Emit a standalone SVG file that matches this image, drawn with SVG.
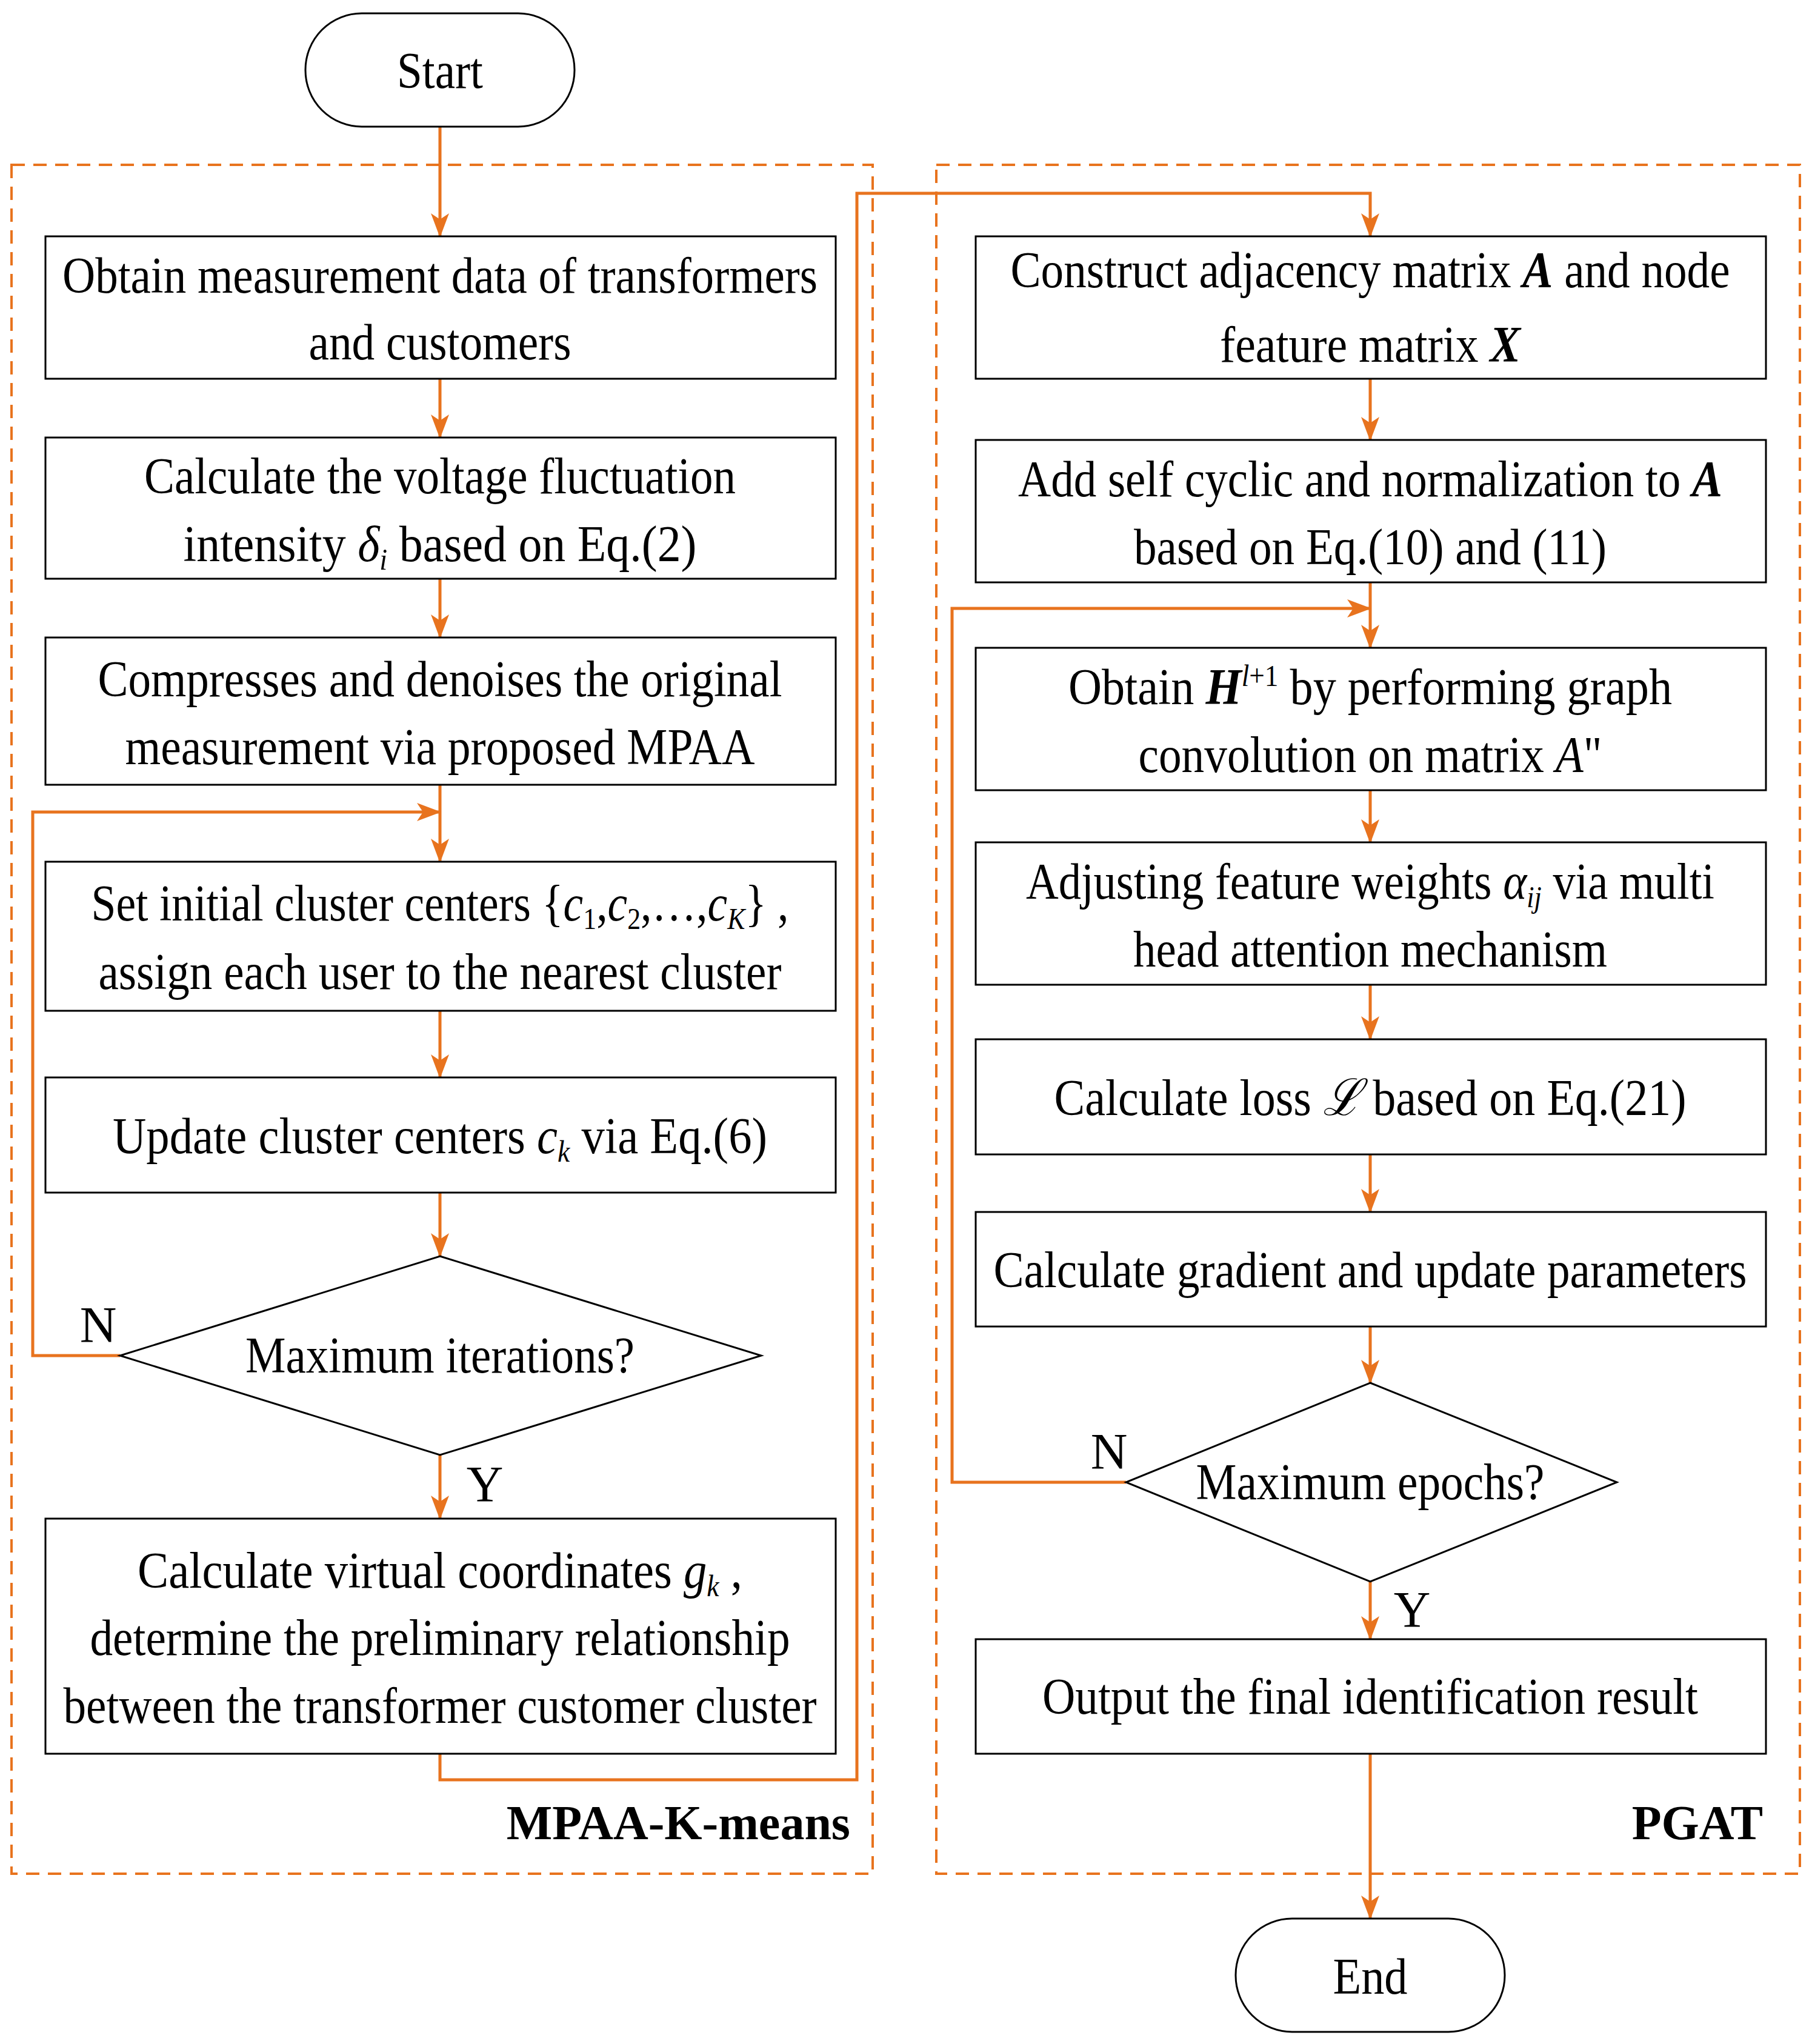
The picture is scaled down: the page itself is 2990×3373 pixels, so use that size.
<svg xmlns="http://www.w3.org/2000/svg" width="2990" height="3373" viewBox="0 0 2990 3373">
<style>
.b{fill:#fff;stroke:#000;stroke-width:3}
.t{font-family:"Liberation Serif",serif;font-size:84px;fill:#000;text-anchor:middle}
.i{font-style:italic}
.bi{font-style:italic;font-weight:bold}
.s{font-size:50px}
.c{fill:none;stroke:#E8731E;stroke-width:5}
.d{fill:none;stroke:#E8731E;stroke-width:4;stroke-dasharray:22 14}
.l{font-family:"Liberation Serif",serif;font-size:80px;font-weight:bold;text-anchor:end}
</style>
<defs><marker id="a" markerWidth="10" markerHeight="10" refX="9" refY="5" orient="auto" markerUnits="userSpaceOnUse" viewBox="0 0 10 10"><path d="M0,0L10,5L0,10z" fill="#E8731E"/></marker>
<marker id="m" markerWidth="40" markerHeight="40" refX="38" refY="15" orient="auto" markerUnits="userSpaceOnUse"><path d="M0,0L40,15L0,30L10,15z" fill="#E8731E"/></marker></defs>
<rect class="d" x="19" y="272" width="1421" height="2820"/>
<rect class="d" x="1545" y="272" width="1425" height="2820"/>
<text class="l" x="1403" y="3035">MPAA-K-means</text>
<text class="l" x="2909" y="3035">PGAT</text>
<g id="connectors">
<path class="c" marker-end="url(#m)" d="M726,209V390"/>
<path class="c" marker-end="url(#m)" d="M726,625V722"/>
<path class="c" marker-end="url(#m)" d="M726,955V1052"/>
<path class="c" marker-end="url(#m)" d="M726,1295V1422"/>
<path class="c" marker-end="url(#m)" d="M726,1668V1778"/>
<path class="c" marker-end="url(#m)" d="M726,1968V2073"/>
<path class="c" marker-end="url(#m)" d="M726,2401V2506"/>
<path class="c" marker-end="url(#m)" d="M198,2237H54V1340H726"/>
<path class="c" marker-end="url(#m)" d="M726,2894V2937H1414V319H2261V390"/>
<path class="c" marker-end="url(#m)" d="M2261,625V726"/>
<path class="c" marker-end="url(#m)" d="M2261,961V1069"/>
<path class="c" marker-end="url(#m)" d="M2261,1304V1390"/>
<path class="c" marker-end="url(#m)" d="M2261,1625V1715"/>
<path class="c" marker-end="url(#m)" d="M2261,1905V2000"/>
<path class="c" marker-end="url(#m)" d="M2261,2189V2282"/>
<path class="c" marker-end="url(#m)" d="M2261,2610V2705"/>
<path class="c" marker-end="url(#m)" d="M2261,2894V3166"/>
<path class="c" marker-end="url(#m)" d="M1858,2446H1571V1004H2261"/>
</g>
<g id="start"><rect class="b" x="504" y="22" width="444" height="187" rx="93"/><text class="t" x="726" y="145" textLength="142" lengthAdjust="spacingAndGlyphs">Start</text></g>
<g id="n1"><rect class="b" x="75" y="390" width="1304" height="235"/><text class="t" x="726" y="483" textLength="1246" lengthAdjust="spacingAndGlyphs">Obtain measurement data of transformers</text><text class="t" x="726" y="593" textLength="433" lengthAdjust="spacingAndGlyphs">and customers</text></g>
<g id="n2"><rect class="b" x="75" y="722" width="1304" height="233"/><text class="t" x="726" y="814" textLength="976" lengthAdjust="spacingAndGlyphs">Calculate the voltage fluctuation</text><text class="t" x="726" y="926" textLength="847" lengthAdjust="spacingAndGlyphs">intensity  <tspan class="i">δ</tspan><tspan class="i s" dy="14">i</tspan><tspan dy="-14">  based on Eq.(2)</tspan></text></g>
<g id="n3"><rect class="b" x="75" y="1052" width="1304" height="243"/><text class="t" x="726" y="1149" textLength="1129" lengthAdjust="spacingAndGlyphs">Compresses and denoises the original</text><text class="t" x="726" y="1261" textLength="1039" lengthAdjust="spacingAndGlyphs">measurement via proposed MPAA</text></g>
<g id="n4"><rect class="b" x="75" y="1422" width="1304" height="246"/><text class="t" x="726" y="1519" textLength="1151" lengthAdjust="spacingAndGlyphs">Set initial cluster centers {<tspan class="i">c</tspan><tspan class="s" dy="14">1</tspan><tspan dy="-14">,</tspan><tspan class="i">c</tspan><tspan class="s" dy="14">2</tspan><tspan dy="-14">,…,</tspan><tspan class="i">c</tspan><tspan class="i s" dy="14">K</tspan><tspan dy="-14">} ,</tspan></text><text class="t" x="726" y="1632" textLength="1127" lengthAdjust="spacingAndGlyphs">assign each user to the nearest cluster</text></g>
<g id="n5"><rect class="b" x="75" y="1778" width="1304" height="190"/><text class="t" x="726" y="1903" textLength="1080" lengthAdjust="spacingAndGlyphs">Update cluster centers  <tspan class="i">c</tspan><tspan class="i s" dy="14">k</tspan><tspan dy="-14"> via Eq.(6)</tspan></text></g>
<g id="d1"><path class="b" d="M726,2073L1256,2237L726,2401L198,2237z"/><text class="t" x="726" y="2265" textLength="642" lengthAdjust="spacingAndGlyphs">Maximum iterations?</text><text class="t" x="162" y="2215">N</text><text class="t" x="800" y="2478">Y</text></g>
<g id="n6"><rect class="b" x="75" y="2506" width="1304" height="388"/><text class="t" x="726" y="2620" textLength="998" lengthAdjust="spacingAndGlyphs">Calculate virtual coordinates  <tspan class="i">g</tspan><tspan class="i s" dy="14">k</tspan><tspan dy="-14"> ,</tspan></text><text class="t" x="726" y="2731" textLength="1155" lengthAdjust="spacingAndGlyphs">determine the preliminary relationship</text><text class="t" x="726" y="2843" textLength="1243" lengthAdjust="spacingAndGlyphs">between the transformer customer cluster</text></g>
<g id="r1"><rect class="b" x="1610" y="390" width="1304" height="235"/><text class="t" x="2261" y="474" textLength="1187" lengthAdjust="spacingAndGlyphs">Construct adjacency matrix <tspan class="bi">A</tspan> and node</text><text class="t" x="2261" y="597" textLength="496" lengthAdjust="spacingAndGlyphs">feature matrix <tspan class="bi">X</tspan></text></g>
<g id="r2"><rect class="b" x="1610" y="726" width="1304" height="235"/><text class="t" x="2261" y="819" textLength="1162" lengthAdjust="spacingAndGlyphs">Add self cyclic and normalization to <tspan class="bi">A</tspan></text><text class="t" x="2261" y="931" textLength="780" lengthAdjust="spacingAndGlyphs">based on Eq.(10) and (11)</text></g>
<g id="r3"><rect class="b" x="1610" y="1069" width="1304" height="235"/><text class="t" x="2261" y="1162" textLength="996" lengthAdjust="spacingAndGlyphs">Obtain  <tspan class="bi">H</tspan><tspan class="i s" dy="-30">l</tspan><tspan class="s">+1</tspan><tspan dy="30"> by performing graph</tspan></text><text class="t" x="2261" y="1274" textLength="765" lengthAdjust="spacingAndGlyphs">convolution on matrix <tspan class="i">A</tspan>"</text></g>
<g id="r4"><rect class="b" x="1610" y="1390" width="1304" height="235"/><text class="t" x="2261" y="1483" textLength="1136" lengthAdjust="spacingAndGlyphs">Adjusting feature weights <tspan class="i">α</tspan><tspan class="i s" dy="14">ij</tspan><tspan dy="-14"> via multi</tspan></text><text class="t" x="2261" y="1595" textLength="782" lengthAdjust="spacingAndGlyphs">head attention mechanism</text></g>
<g id="r5"><rect class="b" x="1610" y="1715" width="1304" height="190"/><text class="t" x="2261" y="1840" textLength="1043" lengthAdjust="spacingAndGlyphs">Calculate loss <tspan class="i">ℒ</tspan>  based on Eq.(21)</text></g>
<g id="r6"><rect class="b" x="1610" y="2000" width="1304" height="189"/><text class="t" x="2261" y="2124" textLength="1243" lengthAdjust="spacingAndGlyphs">Calculate gradient and update parameters</text></g>
<g id="d2"><path class="b" d="M2261,2282L2668,2446L2261,2610L1858,2446z"/><text class="t" x="2261" y="2474" textLength="575" lengthAdjust="spacingAndGlyphs">Maximum epochs?</text><text class="t" x="1830" y="2424">N</text><text class="t" x="2330" y="2685">Y</text></g>
<g id="r7"><rect class="b" x="1610" y="2705" width="1304" height="189"/><text class="t" x="2261" y="2828" textLength="1082" lengthAdjust="spacingAndGlyphs">Output the final identification result</text></g>
<g id="end"><rect class="b" x="2039" y="3166" width="444" height="187" rx="93"/><text class="t" x="2261" y="3290" textLength="123" lengthAdjust="spacingAndGlyphs">End</text></g>
</svg>
